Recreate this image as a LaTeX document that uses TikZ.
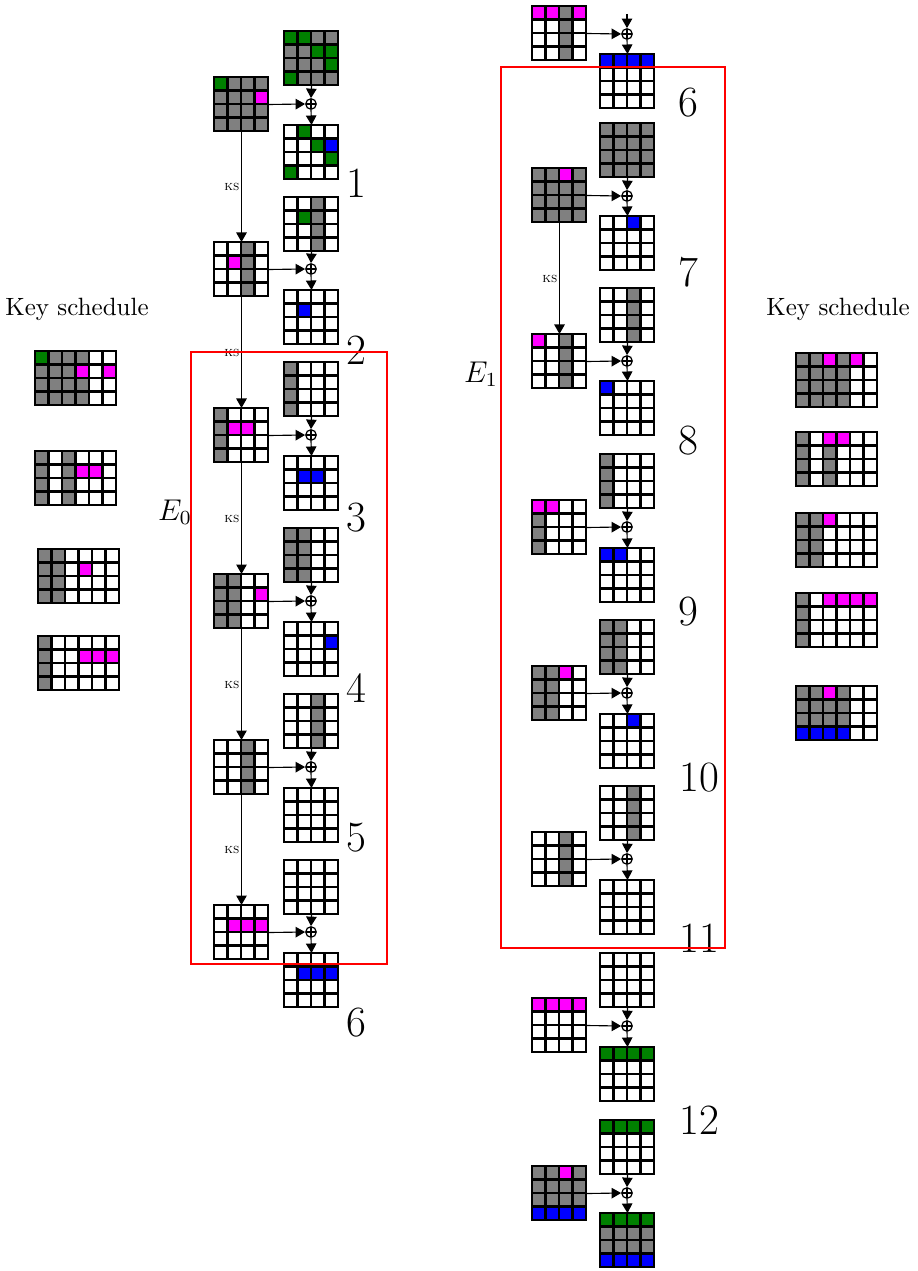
\documentclass[tikz,border=0pt]{standalone}
\usetikzlibrary{arrows.meta}
\definecolor{cw}{RGB}{255,255,255}
\definecolor{cy}{RGB}{128,128,128}
\definecolor{ce}{RGB}{0,128,0}
\definecolor{cm}{RGB}{255,0,255}
\definecolor{cb}{RGB}{0,0,255}
\tikzset{
  gl/.style={line width=0.95pt, line cap=rect},
  arr/.style={line width=0.45pt, -{Triangle[length=3.8pt,width=4.2pt]}},
  xor/.style={circle, draw, line width=0.5pt, inner sep=0pt, minimum size=4.2pt,
    path picture={\draw[line width=0.5pt] (path picture bounding box.north) -- (path picture bounding box.south)
      (path picture bounding box.west) -- (path picture bounding box.east);}},
  ks/.style={font=\fontsize{5.5}{6}\selectfont, inner sep=0.6pt},
  num/.style={font=\LARGE, inner sep=0pt},
  lab/.style={font=\large, inner sep=0pt},
  box/.style={draw=red, line width=0.6pt}
}
% #1 name, #2 left x, #3 top y, #4 number of columns, #5 cell codes row by row
\newcommand\cgrid[5]{%
  \foreach \q [count=\i from 0] in {#5} {%
    \pgfmathtruncatemacro\rr{\i/#4}%
    \pgfmathtruncatemacro\kk{\i-\rr*#4}%
    \fill[fill=c\q] ({#2+\kk*13.5},{#3+\rr*13.5}) rectangle ++(13.5,13.5);
  }%
  \foreach \k in {0,...,#4} {\draw[gl] ({#2+\k*13.5},#3) -- ++(0,54);}%
  \foreach \k in {0,...,4} {\draw[gl] (#2,{#3+\k*13.5}) -- ++({#4*13.5},0);}%
  \node[inner sep=0pt, minimum width={#4*5.4pt}, minimum height=21.6pt, anchor=north west] (#1) at (#2,#3) {};
}
\begin{document}
\begin{tikzpicture}[x=0.4pt, y=-0.4pt]
\useasboundingbox[fill=white] (0,0) rectangle (918,1271);

% ---------- left column ----------
\cgrid{s1}{284}{31}{4}{e,e,y,y, y,y,e,e, y,y,y,e, e,y,y,y}
\cgrid{k1}{214}{77}{4}{e,y,y,y, y,y,y,m, y,y,y,y, y,y,y,y}
\cgrid{o1}{284}{125}{4}{w,e,w,w, w,w,e,b, w,w,w,e, e,w,w,w}
\cgrid{s2}{284}{197}{4}{w,w,y,w, w,e,y,w, w,w,y,w, w,w,y,w}
\cgrid{k2}{214}{242}{4}{w,w,y,w, w,m,y,w, w,w,y,w, w,w,y,w}
\cgrid{o2}{284}{290}{4}{w,w,w,w, w,b,w,w, w,w,w,w, w,w,w,w}
\cgrid{s3}{284}{362}{4}{y,w,w,w, y,w,w,w, y,w,w,w, y,w,w,w}
\cgrid{k3}{214}{408}{4}{y,w,w,w, y,m,m,w, y,w,w,w, y,w,w,w}
\cgrid{o3}{284}{456}{4}{w,w,w,w, w,b,b,w, w,w,w,w, w,w,w,w}
\cgrid{s4}{284}{528}{4}{y,y,w,w, y,y,w,w, y,y,w,w, y,y,w,w}
\cgrid{k4}{214}{574}{4}{y,y,w,w, y,y,w,m, y,y,w,w, y,y,w,w}
\cgrid{o4}{284}{622}{4}{w,w,w,w, w,w,w,b, w,w,w,w, w,w,w,w}
\cgrid{s5}{284}{694}{4}{w,w,y,w, w,w,y,w, w,w,y,w, w,w,y,w}
\cgrid{k5}{214}{740}{4}{w,w,y,w, w,w,y,w, w,w,y,w, w,w,y,w}
\cgrid{o5}{284}{788}{4}{w,w,w,w, w,w,w,w, w,w,w,w, w,w,w,w}
\cgrid{s6}{284}{860}{4}{w,w,w,w, w,w,w,w, w,w,w,w, w,w,w,w}
\cgrid{k6}{214}{905}{4}{w,w,w,w, w,m,m,m, w,w,w,w, w,w,w,w}
\cgrid{o6}{284}{953}{4}{w,w,w,w, w,b,b,b, w,w,w,w, w,w,w,w}

\foreach \n/\y in {1/104, 2/269, 3/435, 4/601, 5/767, 6/932} {
  \node[xor] (x\n) at (311,\y) {};
  \draw[arr] (k\n.east) -- (x\n.west);
  \draw[arr] (s\n.south) -- (x\n.north);
  \draw[arr] (x\n.south) -- (o\n.north);
}
\foreach \a/\b in {1/2, 2/3, 3/4, 4/5, 5/6} {
  \draw[arr] (k\a.south) -- (k\b.north) node[midway, left, ks] {\textsc{ks}};
}
\node[num] (n1) at (356,183) {1};
\node[num] (n2) at (356,350) {2};
\node[num] (n3) at (356,518) {3};
\node[num] (n4) at (356,688) {4};
\node[num] (n5) at (356,838) {5};
\node[num] (n6) at (356,1023) {6};
\draw[box] (191,352) rectangle (387,964);
\node[lab] (e0) at (175,512) {$E_0$};

% ---------- right column ----------
\cgrid{k0r}{532}{6}{4}{m,m,y,m, w,w,y,w, w,w,y,w, w,w,y,w}
\cgrid{o0r}{600}{54}{4}{b,b,b,b, w,w,w,w, w,w,w,w, w,w,w,w}
\cgrid{s1r}{600}{123}{4}{y,y,y,y, y,y,y,y, y,y,y,y, y,y,y,y}
\cgrid{k1r}{532}{168}{4}{y,y,m,y, y,y,y,y, y,y,y,y, y,y,y,y}
\cgrid{o1r}{600}{216}{4}{w,w,b,w, w,w,w,w, w,w,w,w, w,w,w,w}
\cgrid{s2r}{600}{288}{4}{w,w,y,w, w,w,y,w, w,w,y,w, w,w,y,w}
\cgrid{k2r}{532}{334}{4}{m,w,y,w, w,w,y,w, w,w,y,w, w,w,y,w}
\cgrid{o2r}{600}{381}{4}{b,w,w,w, w,w,w,w, w,w,w,w, w,w,w,w}
\cgrid{s3r}{600}{454}{4}{y,w,w,w, y,w,w,w, y,w,w,w, y,w,w,w}
\cgrid{k3r}{532}{500}{4}{m,m,w,w, y,w,w,w, y,w,w,w, y,w,w,w}
\cgrid{o3r}{600}{548}{4}{b,b,w,w, w,w,w,w, w,w,w,w, w,w,w,w}
\cgrid{s4r}{600}{620}{4}{y,y,w,w, y,y,w,w, y,y,w,w, y,y,w,w}
\cgrid{k4r}{532}{666}{4}{y,y,m,w, y,y,w,w, y,y,w,w, y,y,w,w}
\cgrid{o4r}{600}{714}{4}{w,w,b,w, w,w,w,w, w,w,w,w, w,w,w,w}
\cgrid{s5r}{600}{786}{4}{w,w,y,w, w,w,y,w, w,w,y,w, w,w,y,w}
\cgrid{k5r}{532}{832}{4}{w,w,y,w, w,w,y,w, w,w,y,w, w,w,y,w}
\cgrid{o5r}{600}{880}{4}{w,w,w,w, w,w,w,w, w,w,w,w, w,w,w,w}
\cgrid{s6r}{600}{953}{4}{w,w,w,w, w,w,w,w, w,w,w,w, w,w,w,w}
\cgrid{k6r}{532}{998}{4}{m,m,m,m, w,w,w,w, w,w,w,w, w,w,w,w}
\cgrid{o6r}{600}{1047}{4}{e,e,e,e, w,w,w,w, w,w,w,w, w,w,w,w}
\cgrid{s7r}{600}{1120}{4}{e,e,e,e, w,w,w,w, w,w,w,w, w,w,w,w}
\cgrid{k7r}{532}{1166}{4}{y,y,m,y, y,y,y,y, y,y,y,y, b,b,b,b}
\cgrid{o7r}{600}{1213}{4}{e,e,e,e, y,y,y,y, y,y,y,y, b,b,b,b}

\coordinate (t0) at (627,14);
\node[xor] (x0r) at (627,34) {};
\draw[arr] (k0r.east) -- (x0r.west);
\draw[arr] (t0) -- (x0r.north);
\draw[arr] (x0r.south) -- (o0r.north);
\foreach \n/\y in {1/196, 2/361, 3/527, 4/693, 5/859, 6/1026, 7/1193} {
  \node[xor] (x\n r) at (627,\y) {};
  \draw[arr] (k\n r.east) -- (x\n r.west);
  \draw[arr] (s\n r.south) -- (x\n r.north);
  \draw[arr] (x\n r.south) -- (o\n r.north);
}
\draw[arr] (k1r.south) -- (k2r.north) node[midway, left, ks] {\textsc{ks}};
\node[num] (m6) at (688,103) {6};
\node[num] (m7) at (688,272) {7};
\node[num] (m8) at (688,441) {8};
\node[num] (m9) at (688,612) {9};
\node[num] (m10) at (699,778) {10};
\node[num] (m11) at (699,938) {11};
\node[num] (m12) at (699,1120) {12};
\draw[box] (501,67) rectangle (725,948);
\node[lab] (e1) at (481,374) {$E_1$};

% ---------- key schedules ----------
\node (ksl) at (77,309) {Key schedule};
\cgrid{l1}{35}{351}{6}{e,y,y,y,w,w, y,y,y,m,w,m, y,y,y,y,w,w, y,y,y,y,w,w}
\cgrid{l2}{35}{451}{6}{y,w,y,w,w,w, y,w,y,m,m,w, y,w,y,w,w,w, y,w,y,w,w,w}
\cgrid{l3}{38}{549}{6}{y,y,w,w,w,w, y,y,w,m,w,w, y,y,w,w,w,w, y,y,w,w,w,w}
\cgrid{l4}{38}{636}{6}{y,w,w,w,w,w, y,w,w,m,m,m, y,w,w,w,w,w, y,w,w,w,w,w}
\node (ksr) at (838,309) {Key schedule};
\cgrid{r1}{796}{353}{6}{y,y,m,y,m,w, y,y,y,y,w,w, y,y,y,y,w,w, y,y,y,y,w,w}
\cgrid{r2}{796}{432}{6}{y,w,m,m,w,w, y,w,y,w,w,w, y,w,y,w,w,w, y,w,y,w,w,w}
\cgrid{r3}{796}{513}{6}{y,y,m,w,w,w, y,y,w,w,w,w, y,y,w,w,w,w, y,y,w,w,w,w}
\cgrid{r4}{796}{593}{6}{y,w,m,m,m,m, y,w,w,w,w,w, y,w,w,w,w,w, y,w,w,w,w,w}
\cgrid{r5}{796}{686}{6}{y,y,m,y,w,w, y,y,y,y,w,w, y,y,y,y,w,w, b,b,b,b,w,w}
\end{tikzpicture}
\end{document}
